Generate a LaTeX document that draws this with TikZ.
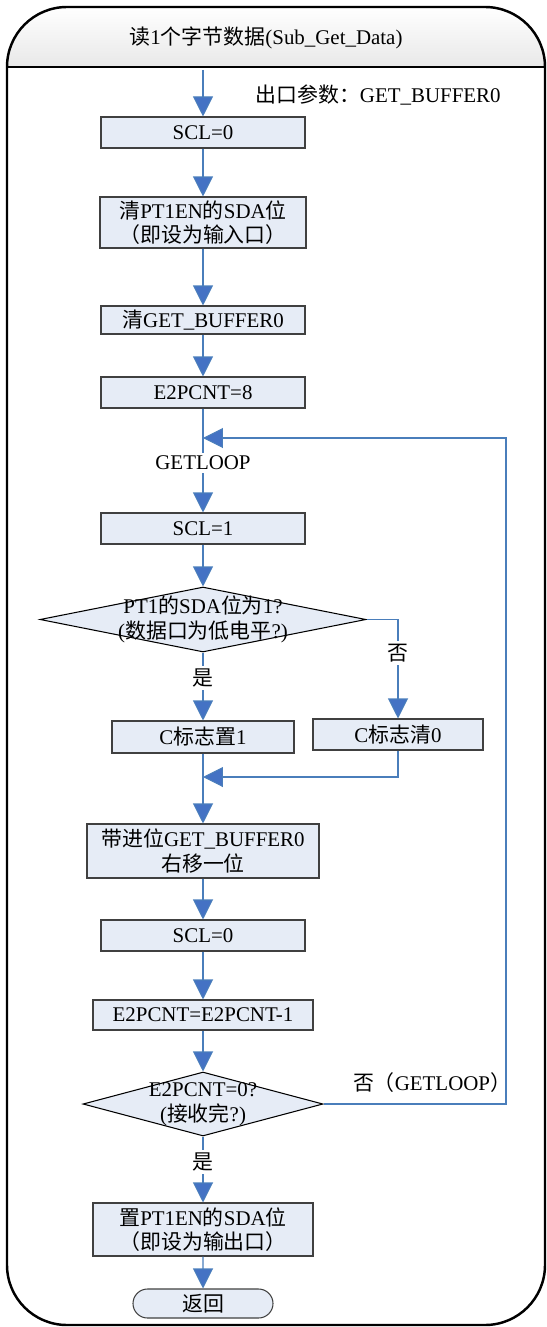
\documentclass[tikz,border=0pt]{standalone}
\usepackage{fontspec}
\setmainfont{Liberation Serif}
\newfontfamily\cjk{Noto Sans CJK SC}
\newcommand{\zh}[1]{{\cjk #1}}
\usetikzlibrary{arrows.meta,shapes.geometric,shapes.misc}
\definecolor{lnblue}{RGB}{74,126,187}
\definecolor{tipblue}{RGB}{68,114,196}
\definecolor{boxfill}{RGB}{230,236,246}
\definecolor{boxdraw}{RGB}{64,64,64}
\begin{document}
\begin{tikzpicture}[x=0.02cm,y=-0.02cm,
  font=\fontsize{11.9}{14}\selectfont,
  pb/.style 2 args={draw=boxdraw, fill=boxfill, line width=0.6pt,
    minimum width=#1*0.02cm, minimum height=#2*0.02cm, inner sep=0pt, align=center},
  dia/.style 2 args={diamond, draw=black, fill=boxfill, line width=0.6pt,
    minimum width=#1*0.02cm, minimum height=#2*0.02cm, inner sep=0pt},
  flow/.style={draw=lnblue, line width=0.6pt,
    -{Triangle[width=0.4cm,length=0.4cm,fill=tipblue]}},
  lbl/.style={fill=white, inner sep=1.5pt},
  frame/.style={line width=1.4pt, rounded corners=1.2cm}]
\useasboundingbox (0,0) rectangle (547,1327);
% frame and header
\begin{scope}
  \clip[rounded corners=1.2cm] (7,7) rectangle (545,1325);
  \shade[top color=white, bottom color=black!9] (7,7) rectangle (545,67);
\end{scope}
\draw[frame] (7,7) rectangle (545,1325);
\draw[line width=1.4pt] (7,67) -- (545,67);
\node (title) at (266,38) {\zh{读}1\zh{个字节数据}(Sub\_Get\_Data)};
\node (outp) at (378,95) {\zh{出口参数：}GET\_BUFFER0};
% nodes
\coordinate (start) at (203,70);
\node[pb={204}{31}] (s0) at (203,132.5) {SCL=0};
\node[pb={206}{51}] (clr) at (203,222.5) {\zh{清}PT1EN\zh{的}SDA\zh{位}\\\zh{（即设为输入口）}};
\node[pb={204}{28}] (cbuf) at (203,320) {\zh{清}GET\_BUFFER0};
\node[pb={204}{31}] (cnt) at (203,392.5) {E2PCNT=8};
\coordinate (lj) at (203,438);
\coordinate (lr) at (506,438);
\node[pb={204}{31}] (s1) at (203,528.5) {SCL=1};
\node[dia={326}{65}] (d1) at (203,619.5) {};
\node[align=center] (d1t) at (203,619.5) {PT1\zh{的}SDA\zh{位为}1?\\(\zh{数据口为低电平}?)};
\coordinate (nb) at (398,619.5);
\node[pb={182}{32}] (c1) at (203,737) {C\zh{标志置}1};
\node[pb={170}{31}] (c0) at (398,734.5) {C\zh{标志清}0};
\coordinate (mg) at (398,777);
\coordinate (mj) at (203,777);
\node[pb={232}{54}] (sh) at (203,851) {\zh{带进位}GET\_BUFFER0\\\zh{右移一位}};
\node[pb={204}{31}] (s0b) at (203,935.5) {SCL=0};
\node[pb={220}{30}] (dec) at (203,1015) {E2PCNT=E2PCNT-1};
\node[dia={240}{64}] (d2) at (203,1104) {};
\node[align=center] (d2t) at (203,1104) {E2PCNT=0?\\(\zh{接收完}?)};
\node[pb={220}{53}] (set) at (203,1229.5) {\zh{置}PT1EN\zh{的}SDA\zh{位}\\\zh{（即设为输出口）}};
\node[rounded rectangle, draw=boxdraw, fill=boxfill, line width=0.6pt,
  minimum width=140*0.02cm, minimum height=29*0.02cm, inner sep=0pt] (ret) at (203,1303.5) {\zh{返回}};
% connectors
\draw[flow] (start) -- (s0);
\draw[flow] (s0) -- (clr);
\draw[flow] (clr) -- (cbuf);
\draw[flow] (cbuf) -- (cnt);
\draw[flow] (cnt) -- (s1);
\node[lbl] (gl) at (203,463) {GETLOOP};
\draw[flow] (s1) -- (d1);
\draw[flow] (d1.south) -- (c1);
\node[lbl] (yes1) at (203,678) {\zh{是}};
\draw[flow] (d1.east) -- (nb) -- (c0);
\node[lbl] (no1) at (398,653) {\zh{否}};
\draw[flow] (c0) -- (mg) -- (mj);
\draw[flow] (c1) -- (sh);
\draw[flow] (sh) -- (s0b);
\draw[flow] (s0b) -- (dec);
\draw[flow] (dec) -- (d2.north);
\draw[flow] (d2.south) -- (set);
\node[lbl] (yes2) at (203,1162) {\zh{是}};
\draw[flow] (d2.east) -| (lr) -- (lj);
\node (no2) at (432,1083) {\zh{否（}GETLOOP\zh{）}};
\draw[flow] (set) -- (ret);
\end{tikzpicture}
\end{document}
